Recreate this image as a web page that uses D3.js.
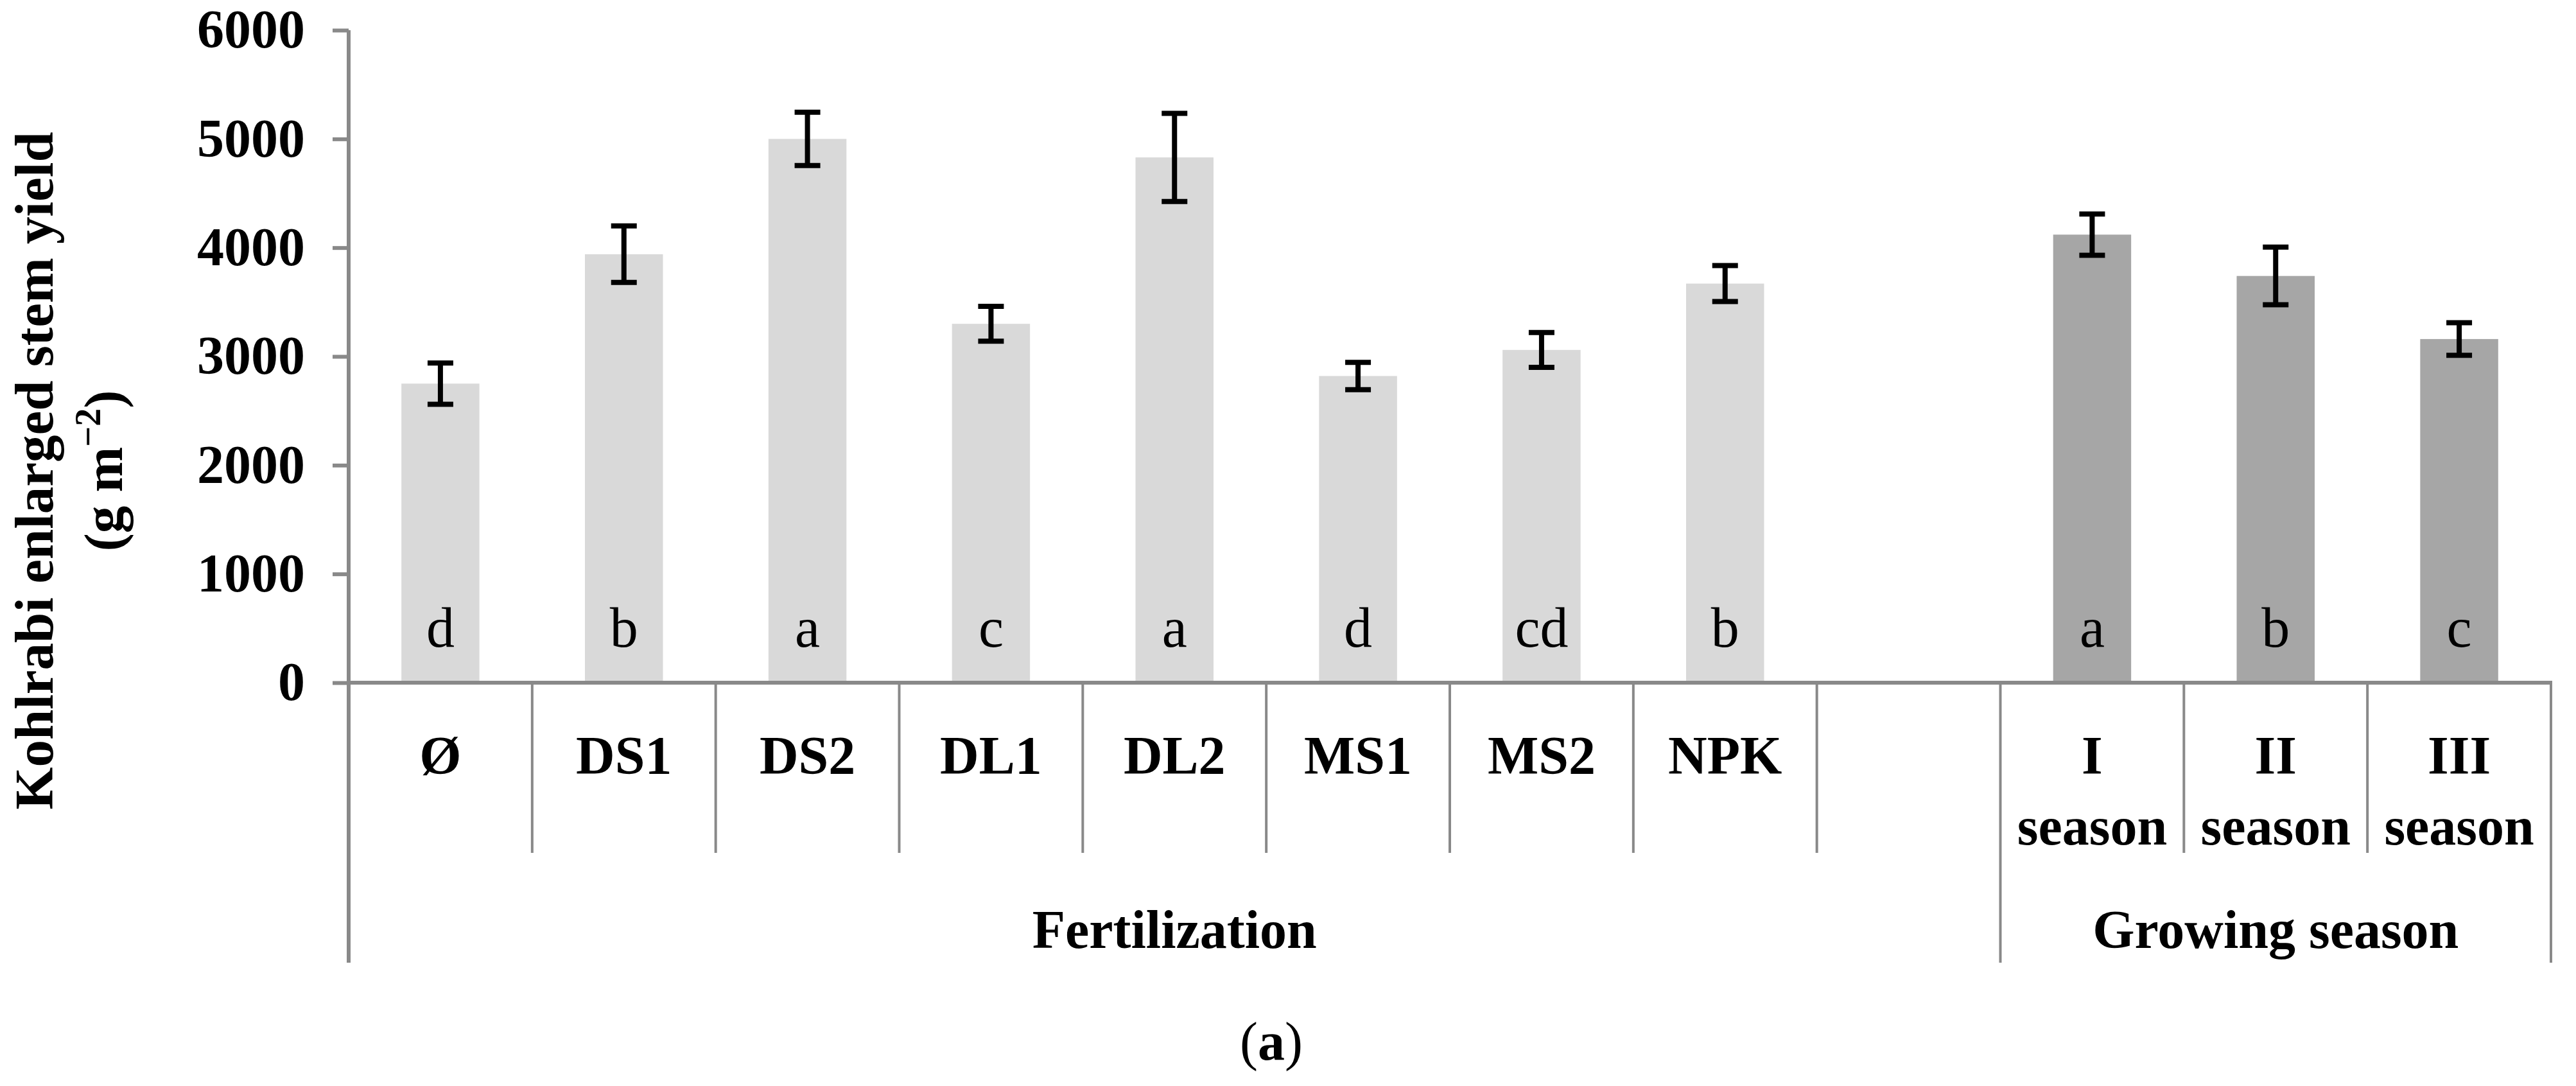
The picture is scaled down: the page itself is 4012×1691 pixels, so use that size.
<!DOCTYPE html>
<html>
<head>
<meta charset="utf-8">
<script src="https://cdn.jsdelivr.net/npm/d3@7"></script>
<style>
  html, body { margin: 0; padding: 0; background: #fff; }
  svg { display: block; }
  text { font-family: "Liberation Serif", "Times New Roman", serif; }
</style>
</head>
<body>
<svg id="chart" width="4012" height="1691"></svg>
<script>
// ---- data ----
const categories = ["Ø", "DS1", "DS2", "DL1", "DL2", "MS1", "MS2", "NPK", "", "I season", "II season", "III season"];
const yieldValues = [2750, 3940, 5000, 3300, 4830, 2820, 3060, 3670, null, 4120, 3740, 3160];
const yieldErrors = [190, 260, 245, 160, 405, 125, 160, 165, null, 190, 265, 150];
const letters = ["d", "b", "a", "c", "a", "d", "cd", "b", "", "a", "b", "c"];
const factor = ["F", "F", "F", "F", "F", "F", "F", "F", "F", "S", "S", "S"];
const groupNames = ["Fertilization", "Growing season"];
const groupKeys = ["F", "S"];
const yTicks = [0, 1000, 2000, 3000, 4000, 5000, 6000];
const yTitle = "Kohlrabi enlarged stem yield";
const panelLabel = "a";

(function () {
// ---- layout ----
const pLeft = 543, pRight = 3973, pTop = 47, pBase = 1063;
const sepShort = 1328, sepLong = 1499;
const axisColor = "#898989";
const svg = d3.select("#chart");

const idx = categories.map((d, i) => i);
const xCat = d3.scaleBand().domain(idx).range([pLeft, pRight]).padding(0);
const pad = 0.575;
const x = d3.scaleBand().domain(idx).range([pLeft, pRight]).paddingInner(pad).paddingOuter(pad / 2);
const y = d3.scaleLinear().domain([0, 6000]).range([pBase, pTop]);

// bars
const data = idx.map(i => ({i, v: yieldValues[i], e: yieldErrors[i], l: letters[i], f: factor[i]}))
  .filter(d => d.v != null);
svg.append("g").selectAll("rect").data(data).join("rect")
  .attr("x", d => x(d.i)).attr("width", x.bandwidth())
  .attr("y", d => y(d.v)).attr("height", d => y(0) - y(d.v))
  .attr("fill", d => d.f === "F" ? "#d9d9d9" : "#a6a6a6");

// letters in bars
svg.append("g").selectAll("text").data(data).join("text")
  .attr("x", d => x(d.i) + x.bandwidth() / 2).attr("y", 1007)
  .attr("text-anchor", "middle").attr("font-size", 88).attr("fill", "#000")
  .text(d => d.l);

// error bars
const eb = svg.append("g").attr("stroke", "#000").attr("stroke-width", 8);
const capW = 40;
const cx = d => x(d.i) + x.bandwidth() / 2;
eb.selectAll("line.stem").data(data).join("line").attr("class", "stem")
  .attr("x1", cx).attr("x2", cx)
  .attr("y1", d => y(d.v + d.e)).attr("y2", d => y(d.v - d.e));
eb.selectAll("line.capt").data(data).join("line").attr("class", "capt")
  .attr("x1", d => cx(d) - capW / 2).attr("x2", d => cx(d) + capW / 2)
  .attr("y1", d => y(d.v + d.e)).attr("y2", d => y(d.v + d.e));
eb.selectAll("line.capb").data(data).join("line").attr("class", "capb")
  .attr("x1", d => cx(d) - capW / 2).attr("x2", d => cx(d) + capW / 2)
  .attr("y1", d => y(d.v - d.e)).attr("y2", d => y(d.v - d.e));

// y axis
const yAxis = d3.axisLeft(y).tickValues(yTicks).tickSize(25).tickSizeOuter(0).tickPadding(43).tickFormat(d3.format("d"));
const gy = svg.append("g").attr("transform", `translate(${pLeft},0)`).call(yAxis);
gy.select(".domain").remove();
gy.selectAll(".tick line").attr("stroke", axisColor).attr("stroke-width", 6);
gy.selectAll(".tick text").attr("font-size", 84).attr("font-weight", "bold").attr("fill", "#000")
  .attr("font-family", "'Liberation Serif', 'Times New Roman', serif");

// axis lines
const ax = svg.append("g").attr("stroke", axisColor);
ax.append("line").attr("x1", pLeft).attr("x2", pLeft).attr("y1", pTop).attr("y2", sepLong).attr("stroke-width", 6);
ax.append("line").attr("x1", pLeft - 3).attr("x2", pRight + 2).attr("y1", pBase).attr("y2", pBase).attr("stroke-width", 6);

// category separators
const bounds = idx.slice(1).map(i => ({pos: xCat(i), long: factor[i] !== factor[i - 1]}));
bounds.push({pos: pRight, long: true});
ax.selectAll("line.sep").data(bounds).join("line").attr("class", "sep")
  .attr("x1", d => d.pos).attr("x2", d => d.pos)
  .attr("y1", pBase).attr("y2", d => d.long ? sepLong : sepShort)
  .attr("stroke-width", 4);

// category labels
const cl = svg.append("g").attr("font-size", 84).attr("font-weight", "bold").attr("text-anchor", "middle");
idx.forEach(i => {
  const words = categories[i].split(" ").filter(w => w);
  const cxx = xCat(i) + xCat.bandwidth() / 2;
  const t = cl.append("text").attr("x", cxx).attr("y", 1205);
  words.forEach((w, k) => t.append("tspan").attr("x", cxx).attr("dy", k === 0 ? 0 : 110).text(w));
});

// group labels
groupKeys.forEach((g, gi) => {
  const members = idx.filter(i => factor[i] === g);
  const x0 = xCat(members[0]), x1 = xCat(members[members.length - 1]) + xCat.bandwidth();
  svg.append("text").attr("x", (x0 + x1) / 2).attr("y", 1476)
    .attr("text-anchor", "middle").attr("font-size", 84).attr("font-weight", "bold")
    .text(groupNames[gi]);
});

// y title
const yt = svg.append("g").attr("transform", "translate(0,733) rotate(-90)")
  .attr("font-size", 85).attr("font-weight", "bold").attr("text-anchor", "middle");
yt.append("text").attr("x", 0).attr("y", 82).text(yTitle);
const t2 = yt.append("text").attr("x", 0).attr("y", 190);
t2.append("tspan").text("(g m");
t2.append("tspan").attr("font-size", 56).attr("dy", -34).text("−2");
t2.append("tspan").attr("dy", 34).text(")");

// panel label
const pl = svg.append("text").attr("x", 1980).attr("y", 1650).attr("text-anchor", "middle").attr("font-size", 84);
pl.append("tspan").text("(");
pl.append("tspan").attr("font-weight", "bold").text(panelLabel);
pl.append("tspan").text(")");
})();
</script>
</body>
</html>
